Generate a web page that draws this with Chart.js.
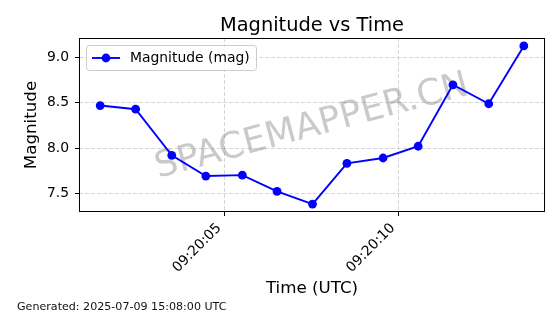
<!DOCTYPE html>
<html><head><meta charset="utf-8">
<script src="https://cdn.jsdelivr.net/npm/chart.js@4.4.1/dist/chart.umd.min.js"></script>
<style>html,body{margin:0;padding:0;background:#fff;} canvas{display:block;}</style>
</head><body>
<canvas id="c" width="560" height="314"></canvas>
<script>
const chartTitle = 'Magnitude vs Time';
const seriesLabel = 'Magnitude (mag)';
const xAxisLabel = 'Time (UTC)';
const yAxisLabel = 'Magnitude';
const footerText = 'Generated: 2025-07-09 15:08:00 UTC';
const watermarkText = 'SPACEMAPPER.CN';
// seconds after 09:20:00 UTC
const timeSeconds = [1.43, 2.45, 3.49, 4.47, 5.52, 6.52, 7.54, 8.53, 9.57, 10.58, 11.58, 12.61, 13.62];
const magnitudes = [8.47, 8.43, 7.92, 7.69, 7.70, 7.52, 7.38, 7.83, 7.89, 8.02, 8.70, 8.49, 9.13];
const xTickValues = [5, 10];
const xTickLabels = ['09:20:05', '09:20:10'];
const yTickValues = [7.5, 8.0, 8.5, 9.0];
const yTickLabels = ['7.5', '8.0', '8.5', '9.0'];

const FONT = "'DejaVu Sans', sans-serif";
Chart.defaults.font.family = FONT;
Chart.defaults.color = '#000';

function margins(arr) {
  const mn = Math.min(...arr), mx = Math.max(...arr), r = mx - mn;
  return [mn - 0.05 * r, mx + 0.05 * r];
}
const [xMin, xMax] = margins(timeSeconds);
const [yMin, yMax] = margins(magnitudes);

const points = timeSeconds.map((t, i) => ({x: t, y: magnitudes[i]}));
const BLUE = '#0000ff';

const decor = {
  id: 'decor',
  beforeDatasetsDraw(chart) {
    const {ctx, chartArea: a} = chart;
    ctx.save();
    ctx.translate((a.left + a.right) / 2, (a.top + a.bottom) / 2 + 2);
    ctx.rotate(-15 * Math.PI / 180);
    ctx.font = '36px ' + FONT;
    ctx.fillStyle = 'rgba(128,128,128,0.42)';
    ctx.textAlign = 'center';
    ctx.textBaseline = 'middle';
    ctx.fillText(watermarkText, 0, 0);
    ctx.restore();
  },
  afterDatasetsDraw(chart) {
    const {ctx, chartArea: a} = chart;
    ctx.save();
    // frame
    ctx.strokeStyle = '#000';
    ctx.lineWidth = 1;
    ctx.strokeRect(a.left + 0.5, a.top + 0.5, a.right - a.left - 1, a.bottom - a.top - 1);
    // legend
    const lx = a.left + 7, ly = a.top + 7, lw = 170, lh = 25;
    ctx.beginPath();
    if (ctx.roundRect) ctx.roundRect(lx + 0.5, ly + 0.5, lw, lh, 3); else ctx.rect(lx + 0.5, ly + 0.5, lw, lh);
    ctx.fillStyle = 'rgba(255,255,255,0.8)';
    ctx.fill();
    ctx.strokeStyle = '#cccccc';
    ctx.lineWidth = 1;
    ctx.stroke();
    const my = ly + lh / 2 + 0.5;
    ctx.strokeStyle = BLUE;
    ctx.lineWidth = 1.9;
    ctx.beginPath();
    ctx.moveTo(lx + 6, my);
    ctx.lineTo(lx + 34, my);
    ctx.stroke();
    ctx.fillStyle = BLUE;
    ctx.beginPath();
    ctx.arc(lx + 20, my, 4.4, 0, Math.PI * 2);
    ctx.fill();
    ctx.fillStyle = '#000';
    ctx.font = '13.9px ' + FONT;
    ctx.textAlign = 'left';
    ctx.textBaseline = 'middle';
    ctx.fillText(seriesLabel, lx + 44, my);
    ctx.restore();
  },
  afterDraw(chart) {
    const {ctx, chartArea: a} = chart;
    ctx.save();
    ctx.fillStyle = '#000';
    ctx.font = '19.4px ' + FONT;
    ctx.textAlign = 'center';
    ctx.textBaseline = 'alphabetic';
    ctx.fillText(chartTitle, (a.left + a.right) / 2, 31);
    ctx.font = '11.1px ' + FONT;
    ctx.textAlign = 'left';
    ctx.fillStyle = '#111';
    ctx.fillText(footerText, 17, 310);
    ctx.restore();
  }
};

new Chart(document.getElementById('c'), {
  type: 'line',
  data: {
    datasets: [{
      label: seriesLabel,
      data: points,
      borderColor: BLUE,
      backgroundColor: BLUE,
      borderWidth: 1.9,
      pointRadius: 4.4,
      pointHoverRadius: 4.4,
      pointBackgroundColor: BLUE,
      pointBorderColor: BLUE,
      pointBorderWidth: 0,
      tension: 0,
      fill: false
    }]
  },
  options: {
    responsive: false,
    animation: false,
    devicePixelRatio: 1,
    layout: {padding: {top: 38, right: 15, left: 0, bottom: 0}},
    plugins: {legend: {display: false}, title: {display: false}, tooltip: {enabled: false}},
    scales: {
      x: {
        type: 'linear',
        min: xMin, max: xMax,
        afterBuildTicks: s => { s.ticks = xTickValues.map(v => ({value: v})); },
        afterFit: s => { s.height = 102; },
        ticks: {
          autoSkip: false, minRotation: 45, maxRotation: 45,
          padding: 4.1, labelOffset: -5,
          font: {size: 13.9, family: FONT}, color: '#000',
          callback: (v) => xTickLabels[xTickValues.indexOf(v)]
        },
        grid: {color: '#cccccc', lineWidth: 0.8, tickLength: 4, tickColor: '#000', tickWidth: 1, tickBorderDash: []},
        border: {display: false, dash: [4, 2]},
        title: {display: true, text: xAxisLabel, font: {size: 16.7, family: FONT}, color: '#000', padding: {top: 0, bottom: 15}}
      },
      y: {
        type: 'linear',
        min: yMin, max: yMax,
        afterBuildTicks: s => { s.ticks = yTickValues.map(v => ({value: v})); },
        afterFit: s => { s.width = 79; },
        ticks: {
          padding: 6,
          font: {size: 13.9, family: FONT}, color: '#000',
          callback: (v) => yTickLabels[yTickValues.indexOf(v)]
        },
        grid: {color: '#cccccc', lineWidth: 0.8, tickLength: 4, tickColor: '#000', tickWidth: 1, tickBorderDash: []},
        border: {display: false, dash: [4, 2]},
        title: {display: true, text: yAxisLabel, font: {size: 16.7, family: FONT}, color: '#000', padding: {top: 22, bottom: 0}}
      }
    }
  },
  plugins: [decor]
});
</script>
</body></html>
